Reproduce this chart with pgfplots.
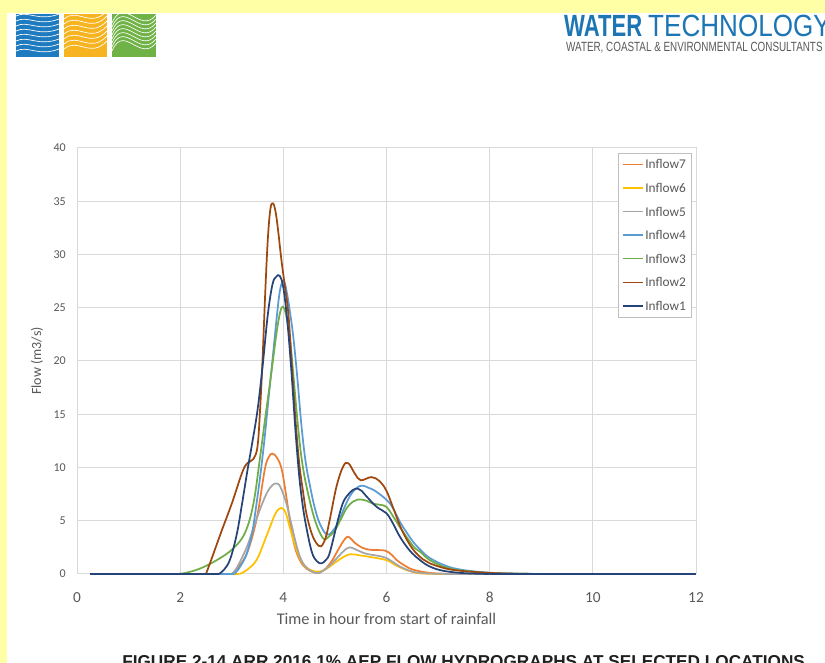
\documentclass[border=0pt]{standalone}
\usepackage{fontspec}
\setmainfont{Carlito}
\newfontfamily\arial{Liberation Sans}
\usepackage{pgfplots}
\pgfplotsset{compat=1.18}

\definecolor{bgyellow}{HTML}{FFFFA6}
\definecolor{txtgray}{HTML}{595959}
\definecolor{gridgray}{HTML}{D9D9D9}
\definecolor{legendgray}{HTML}{BFBFBF}
\definecolor{wtblue}{HTML}{1D76B4}
\definecolor{logoblue}{HTML}{1F7BBF}
\definecolor{logoyellow}{HTML}{F7B421}
\definecolor{logogreen}{HTML}{6FB245}
\definecolor{colseven}{HTML}{ED7D31}
\definecolor{colsix}{HTML}{FFC000}
\definecolor{colfive}{HTML}{A5A5A5}
\definecolor{colfour}{HTML}{5B9BD5}
\definecolor{colthree}{HTML}{70AD47}
\definecolor{coltwo}{HTML}{9E480E}
\definecolor{colone}{HTML}{264478}

\begin{document}
\begin{tikzpicture}
% page furniture, in pixels of the 825x663 scan (origin bottom left)
\begin{scope}[x=0.75pt,y=0.75pt]
\fill[white] (0,0) rectangle (825,663);
\fill[bgyellow] (0,650) rectangle (825,663);
\fill[bgyellow] (0,0) rectangle (7,663);

% logo squares
\fill[logoblue] (16,606) rectangle (59,649);
\fill[logoyellow] (64,606) rectangle (107,649);
\fill[logogreen] (112,606) rectangle (156,649);
\begin{scope}
\clip (16,606) rectangle (59,649);
\foreach \d in {0,5,...,35} {
  \draw[white, line width=0.5pt] (16,612+\d) .. controls (28,618+\d) and (38,606+\d) .. (59,614+\d);
}
\end{scope}
\begin{scope}
\clip (64,606) rectangle (107,649);
\foreach \d in {0,5,...,30} {
  \draw[white, line width=0.5pt] (64,614+\d) .. controls (78,626+\d) and (90,604+\d) .. (107,622+\d);
}
\end{scope}
\begin{scope}
\clip (112,606) rectangle (156,649);
\foreach \d in {0,4,...,28} {
  \draw[white, line width=0.5pt] (112,612+\d) .. controls (124,640+\d) and (140,600+\d) .. (156,620+\d);
}
\end{scope}

% company name (runs past the right edge, as in the scan)
\node[overlay, anchor=base west, inner sep=0pt, xscale=0.72, text=wtblue]
  at (564,626) {\arial\bfseries\fontsize{23}{24}\selectfont WATER};
\node[overlay, anchor=base west, inner sep=0pt, xscale=0.85, text=wtblue]
  at (648,626) {\arial\fontsize{23}{24}\selectfont TECHNOLOGY};
\node[overlay, anchor=base west, inner sep=0pt, xscale=0.74, text=txtgray]
  at (566,611) {\arial\fontsize{10}{11}\selectfont WATER, COASTAL \& ENVIRONMENTAL CONSULTANTS};

% caption (cut at the bottom edge)
\node[overlay, anchor=north west, inner sep=0pt, text=black!88]
  at (122,8) {\arial\bfseries\fontsize{12.9}{14}\selectfont FIGURE 2-14 ARR 2016 1\% AEP FLOW HYDROGRAPHS AT SELECTED LOCATIONS};
\end{scope}

\begin{axis}[
  at={(57.75pt,66.75pt)}, anchor=south west,
  scale only axis, width=464.25pt, height=319.5pt,
  xmin=0, xmax=12, ymin=0, ymax=40,
  xtick={0,2,...,12}, ytick={0,5,...,40},
  grid=major,
  major grid style={gridgray, line width=0.75pt},
  axis line style={gridgray, line width=0.75pt},
  tick style={draw=none},
  clip=false,
  /pgf/number format/assume math mode=true,
  xticklabel style={font=\fontsize{11.5}{12}\selectfont, text=txtgray, anchor=north, inner sep=0pt, yshift=-13.5pt},
  yticklabel style={font=\fontsize{9}{10}\selectfont, text=txtgray, anchor=east, inner sep=0pt, xshift=-8.25pt},
  xlabel={Time in hour from start of rainfall},
  xlabel style={at={(axis description cs:0.5,-0.1056)}, anchor=center, font=\fontsize{12.2}{14}\selectfont, text=txtgray},
  ylabel={Flow (m3/s)},
  ylabel style={at={(axis description cs:-0.0646,0.5)}, anchor=center, font=\fontsize{10.5}{12}\selectfont, text=txtgray},
  legend cell align=left,
  legend image code/.code={\draw[#1] (0pt,0pt) -- (15pt,0pt);},
  legend image post style={line width=1.1pt},
  legend style={at={(0.9935,0.9883)}, anchor=north east, draw=legendgray, fill=white,
    font=\fontsize{10}{12}\selectfont, text=txtgray,
    inner xsep=2.8pt, inner ysep=3.5pt, row sep=8.2pt,
    nodes={inner xsep=1.5pt, inner ysep=1.25pt, text height=7pt, text depth=0pt}},
  every axis plot/.append style={line width=1.3pt},
  smooth, tension=0.6,
]

% Inflow7
\addplot[colseven] coordinates {
(3.0,0) (3.1,0.5) (3.29,1.9) (3.48,5.1) (3.64,9.8) (3.72,11.0) (3.79,11.3)
(3.88,10.9) (3.97,9.8) (4.06,7.2) (4.14,4.6) (4.22,2.6) (4.32,1.3) (4.45,0.5) (4.64,0.1)
(4.75,0.25) (4.84,0.6) (4.95,1.3) (5.06,2.25) (5.18,3.2) (5.26,3.5) (5.37,3.0) (5.48,2.6)
(5.6,2.35) (5.74,2.25) (5.97,2.2) (6.1,1.8) (6.2,1.3) (6.35,0.8) (6.52,0.4) (6.84,0.1)
(7.2,0.02) (7.5,0)
};
\addlegendentry{Inflow7}
\addplot[colseven, forget plot, sharp plot] coordinates {(0.25,0) (3.0,0)};
\addplot[colseven, forget plot, sharp plot] coordinates {(7.5,0) (12,0)};

% Inflow6
\addplot[colsix] coordinates {
(3.15,0) (3.3,0.4) (3.48,1.3) (3.62,2.9) (3.74,4.4) (3.85,5.7) (3.95,6.2)
(4.04,5.8) (4.13,4.3) (4.22,2.8) (4.32,1.5) (4.45,0.6) (4.64,0.22) (4.78,0.35) (4.9,0.7)
(5.1,1.4) (5.29,1.85) (5.48,1.75) (5.68,1.6) (6.0,1.3) (6.15,0.9) (6.32,0.5) (6.5,0.2)
(6.65,0.06) (7.0,0)
};
\addlegendentry{Inflow6}
\addplot[colsix, forget plot, sharp plot] coordinates {(0.25,0) (3.15,0)};
\addplot[colsix, forget plot, sharp plot] coordinates {(7.0,0) (12,0)};

% Inflow5
\addplot[colfive] coordinates {
(3.0,0) (3.1,0.6) (3.29,2.5) (3.42,4.3) (3.55,6.1) (3.68,7.6) (3.78,8.3)
(3.86,8.5) (3.94,8.2) (4.06,6.6) (4.15,4.8) (4.26,2.6) (4.35,1.3) (4.47,0.5) (4.64,0.08)
(4.77,0.3) (4.9,0.8) (5.06,1.6) (5.18,2.2) (5.29,2.5) (5.45,2.2) (5.61,1.9) (5.94,1.6)
(6.1,1.2) (6.26,0.7) (6.45,0.3) (6.65,0.1) (7.0,0.02) (7.5,0)
};
\addlegendentry{Inflow5}
\addplot[colfive, forget plot, sharp plot] coordinates {(0.25,0) (3.0,0)};
\addplot[colfive, forget plot, sharp plot] coordinates {(7.5,0) (12,0)};

% Inflow4
\addplot[colfour] coordinates {
(3.05,0) (3.15,0.6) (3.29,1.9) (3.4,4.0) (3.48,6.6) (3.56,9.5) (3.64,12.9)
(3.72,16.8) (3.8,20.6) (3.87,24) (3.93,26.5) (3.99,27.5) (4.04,27.1) (4.11,25.2)
(4.19,22.4) (4.27,18.5) (4.35,14.0) (4.43,10.6) (4.52,8.2) (4.6,6.4) (4.7,4.8)
(4.84,3.7) (4.95,4.0) (5.06,4.8) (5.18,6.2) (5.29,7.3) (5.4,8.0) (5.52,8.3) (5.65,8.1)
(5.81,7.7) (6.07,6.6) (6.26,4.9) (6.39,3.9) (6.52,3.0) (6.65,2.3) (6.84,1.5) (7.16,0.75)
(7.49,0.37) (8.0,0.12) (8.5,0.04) (9,0)
};
\addlegendentry{Inflow4}
\addplot[colfour, forget plot, sharp plot] coordinates {(0.25,0) (3.05,0)};
\addplot[colfour, forget plot, sharp plot] coordinates {(9,0) (12,0)};

% Inflow3
\addplot[colthree] coordinates {
(1.95,0) (2.1,0.1) (2.38,0.5) (2.71,1.3) (3.03,2.4) (3.26,3.9) (3.42,6.6)
(3.55,11.0) (3.65,14.7) (3.76,18.6) (3.87,22.7) (3.94,24.6) (3.99,25.1) (4.05,24.4)
(4.13,22) (4.2,18.4) (4.27,14.6) (4.35,11.0) (4.45,8.2) (4.61,5.1) (4.77,3.35) (4.88,3.5)
(5.0,4.1) (5.12,5.2) (5.23,6.2) (5.35,6.8) (5.45,7.0) (5.6,6.9) (5.74,6.6) (5.87,6.5)
(6.0,6.3) (6.13,5.4) (6.26,4.4) (6.52,2.6) (6.65,2.1) (6.84,1.3) (7.16,0.6) (7.49,0.3)
(8.0,0.1) (8.5,0.03) (9,0)
};
\addlegendentry{Inflow3}
\addplot[colthree, forget plot, sharp plot] coordinates {(0.25,0) (1.95,0)};
\addplot[colthree, forget plot, sharp plot] coordinates {(9,0) (12,0)};

% Inflow2
\addplot[coltwo] coordinates {
(2.5,0) (2.6,1.3) (2.8,4.0) (3.0,6.6) (3.2,9.5) (3.3,10.4) (3.42,10.8)
(3.5,12.0) (3.55,15.5) (3.6,20.5) (3.65,26.5) (3.7,31.5) (3.75,34.3) (3.8,34.8)
(3.85,34.0) (3.9,32.2) (3.96,29.6) (4.03,27.0) (4.1,24.3) (4.17,19.2) (4.24,14.2)
(4.31,10.3) (4.38,7.8) (4.45,5.6) (4.55,3.8) (4.64,2.9) (4.73,2.6) (4.82,3.4) (4.9,5.1)
(5.03,8.2) (5.16,10.1) (5.26,10.4) (5.39,9.4) (5.5,8.8) (5.71,9.1) (5.87,8.7) (6.0,7.8)
(6.13,6.2) (6.3,4.1) (6.5,2.4) (6.7,1.4) (6.84,1.0) (7.16,0.5) (7.48,0.28) (8.0,0.1)
(8.5,0.03) (9,0)
};
\addlegendentry{Inflow2}
\addplot[coltwo, forget plot, sharp plot] coordinates {(0.25,0) (2.5,0)};
\addplot[coltwo, forget plot, sharp plot] coordinates {(9,0) (12,0)};

% Inflow1
\addplot[colone] coordinates {
(2.75,0) (2.85,0.4) (2.97,1.4) (3.1,3.8) (3.2,6.6) (3.3,9.6) (3.4,12.4) (3.5,15.4)
(3.6,19.6) (3.7,24.4) (3.79,27.2) (3.86,27.9) (3.93,28.0) (4.0,26.9) (4.08,23.6)
(4.16,18.8) (4.23,13.8) (4.3,9.6) (4.36,7.0) (4.43,4.8) (4.55,2.1) (4.65,1.2) (4.74,1.0)
(4.82,1.3) (4.9,2.0) (5.06,5.1) (5.15,6.6) (5.23,7.3) (5.35,7.9) (5.45,8.0) (5.52,7.8)
(5.61,7.3) (5.81,6.3) (6.0,5.7) (6.13,4.7) (6.26,3.5) (6.45,2.2) (6.65,1.3) (6.84,0.7)
(7.1,0.3) (7.5,0.08) (8,0)
};
\addlegendentry{Inflow1}
\addplot[colone, forget plot, sharp plot] coordinates {(0.25,0) (2.75,0)};
\addplot[colone, forget plot, sharp plot] coordinates {(8,0) (12,0)};

\end{axis}
\end{tikzpicture}
\end{document}
